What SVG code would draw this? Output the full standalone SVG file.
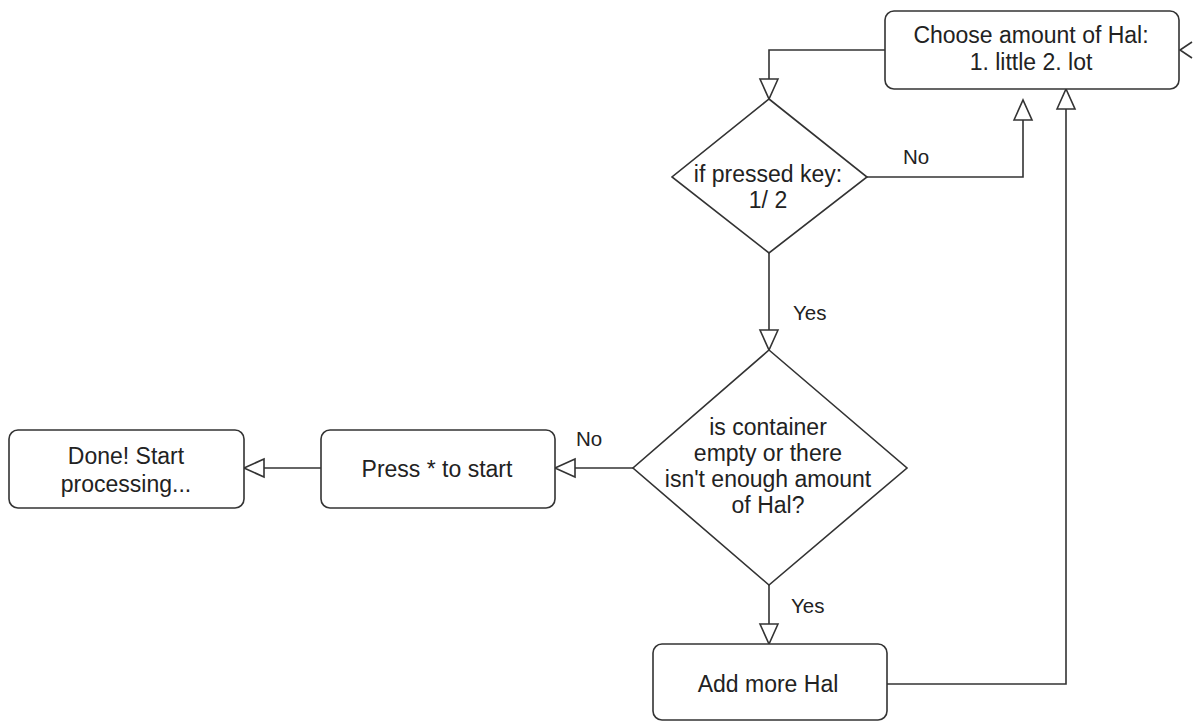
<svg xmlns="http://www.w3.org/2000/svg" width="1200" height="722" viewBox="0 0 1200 722">
<style>
.n{fill:#fff;stroke:#333;stroke-width:1.6}
.c{fill:none;stroke:#333;stroke-width:1.6}
text{font-family:"Liberation Sans",Arial,sans-serif;font-size:23px;fill:#222;text-anchor:middle}
.l{font-size:20.5px;text-anchor:start}
</style>
<defs>
<marker id="a" markerUnits="userSpaceOnUse" markerWidth="24" markerHeight="22" refX="20" refY="10" orient="auto" viewBox="-1 -1 24 22">
<path d="M0,1 L20,10 L0,19 Z" fill="#fff" stroke="#333" stroke-width="1.6"/>
</marker>
</defs>
<rect width="1200" height="722" fill="#fff"/>
<g id="connectors">
<polyline class="c" points="885,50 769,50 769,99" marker-end="url(#a)"/>
<polyline class="c" points="867,177 1023,177 1023,100" marker-end="url(#a)"/>
<line class="c" x1="769" y1="253" x2="769" y2="350" marker-end="url(#a)"/>
<line class="c" x1="633" y1="468" x2="555" y2="468" marker-end="url(#a)"/>
<line class="c" x1="321" y1="468" x2="244" y2="468" marker-end="url(#a)"/>
<line class="c" x1="769" y1="585" x2="769" y2="644" marker-end="url(#a)"/>
<polyline class="c" points="887,684 1066,684 1066,89" marker-end="url(#a)"/>
<polyline class="c" points="1192,42 1180,50 1192,58"/>
<text class="l" x="903" y="164">No</text>
<text class="l" x="793" y="320">Yes</text>
<text class="l" x="576" y="446">No</text>
<text class="l" x="791" y="613">Yes</text>
</g>
<g id="choose">
<rect class="n" x="885" y="11" width="294" height="78" rx="9"/>
<text x="1031" y="43">Choose amount of Hal:</text>
<text x="1031" y="70">1. little 2. lot</text>
</g>
<g id="key">
<polygon class="n" points="769,99 867,177 769,253 672,177"/>
<text x="768" y="182">if pressed key:</text>
<text x="768" y="208">1/ 2</text>
</g>
<g id="container">
<polygon class="n" points="769,350 907,468 769,585 633,468"/>
<text x="768" y="435">is container</text>
<text x="768" y="461">empty or there</text>
<text x="768" y="487">isn't enough amount</text>
<text x="768" y="513">of Hal?</text>
</g>
<g id="press">
<rect class="n" x="321" y="430" width="234" height="78" rx="9"/>
<text x="437" y="477">Press * to start</text>
</g>
<g id="done">
<rect class="n" x="9" y="430" width="235" height="78" rx="9"/>
<text x="126" y="464">Done! Start</text>
<text x="126" y="492">processing...</text>
</g>
<g id="add">
<rect class="n" x="653" y="644" width="234" height="76" rx="9"/>
<text x="768" y="692">Add more Hal</text>
</g>
</svg>
